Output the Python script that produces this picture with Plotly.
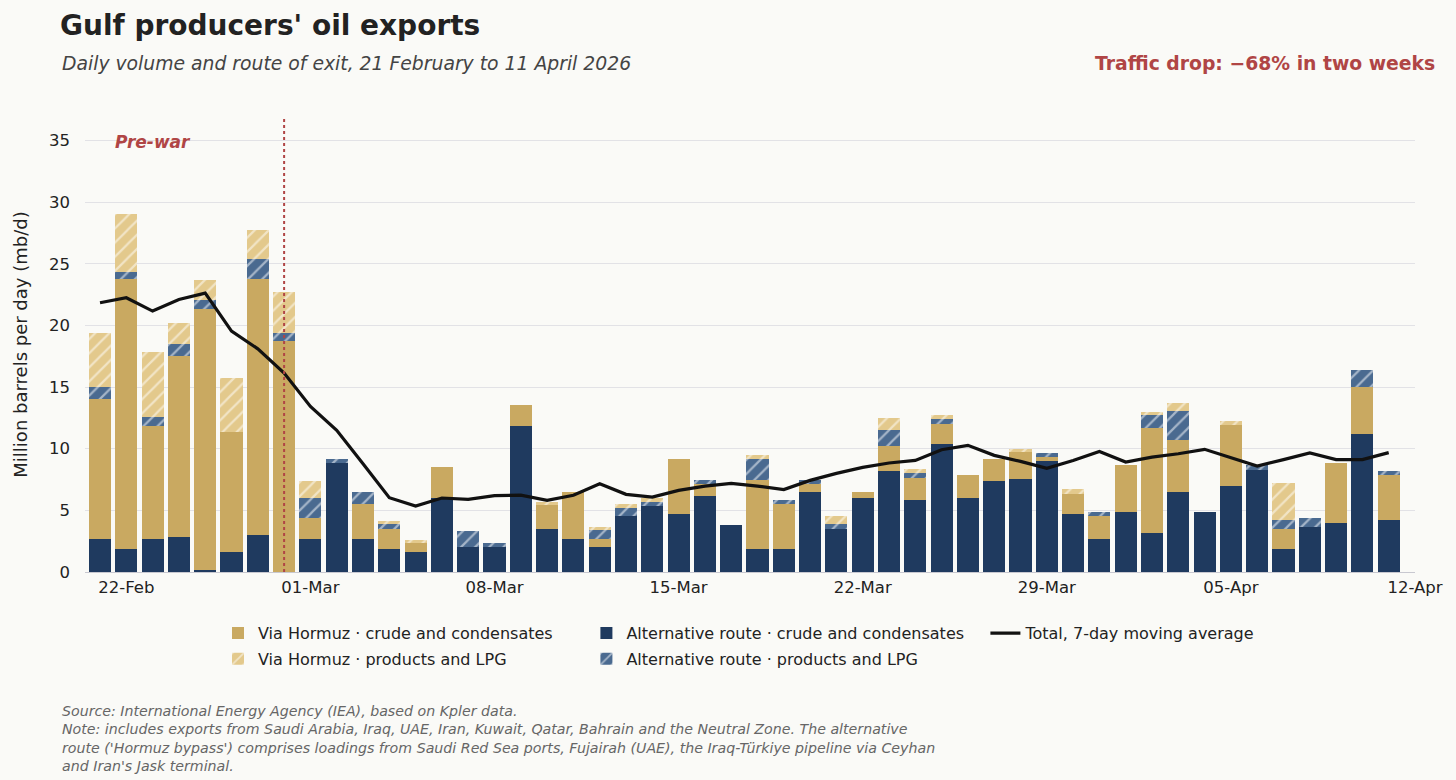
import pandas as pd
import plotly.graph_objects as go

# Daily data, 21 Feb - 11 Apr 2026 (mb/d)
dates = pd.date_range("2026-02-21", "2026-04-11", freq="D")

alt_crude = [2.65, 1.84, 2.65, 2.86, 0.14, 1.65, 3.0, 0.0,
             2.65, 8.86, 2.65, 1.84, 1.65, 6.0, 2.03, 2.03, 11.84, 3.49, 2.65, 2.0,
             4.51, 5.38, 4.68, 6.19, 3.84, 1.84, 1.84, 6.46, 3.49, 6.0, 8.19, 5.84,
             10.35, 6.0, 7.35, 7.51, 8.97, 4.68, 2.65,
             4.84, 3.14, 6.49, 4.84, 6.97, 8.24, 1.84, 3.65, 4.0, 11.22, 4.19]
hormuz_crude = [11.35, 21.89, 9.19, 14.63, 21.21, 9.7, 20.73, 18.73,
                1.7, 0.0, 2.86, 1.65, 0.7, 2.49, 0.0, 0.0, 1.67, 1.92, 3.84, 0.65,
                0.0, 0.0, 4.51, 0.97, 0.0, 5.65, 3.65, 0.7, 0.0, 0.49, 2.03, 1.81,
                1.68, 1.84, 1.81, 2.22, 0.35, 1.67, 1.86,
                3.81, 8.56, 4.19, 0.0, 4.92, 0.0, 1.65, 0.0, 4.84, 3.78, 3.65]
alt_products = [1.0, 0.62, 0.7, 1.0, 0.7, 0.0, 1.62, 0.62,
                1.65, 0.27, 0.97, 0.38, 0.0, 0.0, 1.32, 0.3, 0.0, 0.0, 0.0, 0.73,
                0.7, 0.3, 0.0, 0.32, 0.0, 1.7, 0.38, 0.32, 0.38, 0.0, 1.27, 0.38,
                0.38, 0.0, 0.0, 0.0, 0.35, 0.0, 0.32,
                0.0, 1.0, 2.35, 0.0, 0.0, 0.41, 0.7, 0.7, 0.0, 1.35, 0.35]
hormuz_products = [4.35, 4.7, 5.3, 1.73, 1.65, 4.35, 2.35, 3.35,
                   1.35, 0.0, 0.0, 0.27, 0.27, 0.0, 0.0, 0.0, 0.0, 0.27, 0.0, 0.27,
                   0.27, 0.3, 0.0, 0.0, 0.0, 0.32, 0.0, 0.0, 0.65, 0.0, 1.02, 0.32,
                   0.3, 0.0, 0.0, 0.27, 0.0, 0.35, 0.0,
                   0.0, 0.27, 0.67, 0.0, 0.32, 0.0, 3.0, 0.0, 0.0, 0.0, 0.0]
moving_avg = [21.84, 22.24, 21.16, 22.1, 22.62, 19.54, 18.1, 16.14,
              13.43, 11.49, 8.78, 6.03, 5.35, 6.0, 5.89, 6.19, 6.24, 5.81, 6.22, 7.16,
              6.3, 6.08, 6.62, 6.97, 7.19, 6.97, 6.68, 7.43, 8.0, 8.48, 8.84, 9.05,
              9.92, 10.27, 9.46, 8.97, 8.41, 9.05, 9.78,
              8.92, 9.32, 9.59, 9.95, 9.25, 8.59, 9.11, 9.65, 9.11, 9.11, 9.68]

tick_dates = ["2026-02-22", "2026-03-01", "2026-03-08", "2026-03-15",
              "2026-03-22", "2026-03-29", "2026-04-05", "2026-04-12"]
tick_labels = ["22-Feb", "01-Mar", "08-Mar", "15-Mar", "22-Mar", "29-Mar", "05-Apr", "12-Apr"]

TAN = "#C9A961"
TAN_LIGHT = "#E3C98C"
NAVY = "#1F3A5F"
BLUE = "#4A6A90"
RED = "#B04545"
BG = "#FAFAF7"
FONT = "DejaVu Sans"

bar_w = 0.84 * 86400000  # ms

fig = go.Figure()

# stack order bottom -> top
fig.add_trace(go.Bar(x=dates, y=alt_crude, name="Alternative route · crude and condensates",
                     marker=dict(color=NAVY, line=dict(width=0)), width=bar_w,
                     legend="legend2", legendgroup="ac"))
fig.add_trace(go.Bar(x=dates, y=hormuz_crude, name="Via Hormuz · crude and condensates",
                     marker=dict(color=TAN, line=dict(width=0)), width=bar_w,
                     legend="legend", legendgroup="hc"))
fig.add_trace(go.Bar(x=dates, y=alt_products, name="Alternative route · products and LPG",
                     marker=dict(color=BLUE, line=dict(width=0),
                                 pattern=dict(shape="/", fgcolor="white", bgcolor=BLUE,
                                              size=10, solidity=0.22)),
                     width=bar_w, legend="legend2", legendgroup="ap"))
fig.add_trace(go.Bar(x=dates, y=hormuz_products, name="Via Hormuz · products and LPG",
                     marker=dict(color=TAN_LIGHT, line=dict(width=0),
                                 pattern=dict(shape="/", fgcolor="white", bgcolor=TAN_LIGHT,
                                              size=10, solidity=0.22)),
                     width=bar_w, legend="legend", legendgroup="hp"))
fig.add_trace(go.Scatter(x=dates, y=moving_avg, name="Total, 7-day moving average",
                         mode="lines", line=dict(color="#111111", width=3.2),
                         legend="legend3", legendgroup="ma"))

# war start marker
fig.add_shape(type="line", x0="2026-02-28", x1="2026-02-28", y0=0, y1=1, yref="paper",
              line=dict(color=RED, width=2, dash="dot"))

fig.add_annotation(x="2026-02-23", y=34.85, text="<b><i>Pre-war</i></b>", showarrow=False,
                   font=dict(size=17, color=RED, family=FONT))

# header / footer text
fig.add_annotation(xref="paper", yref="paper", x=-0.0188, y=1.1165, xanchor="left", yanchor="middle",
                   text="<i>Daily volume and route of exit, 21 February to 11 April 2026</i>",
                   showarrow=False, font=dict(size=18.8, color="#444444", family=FONT))
fig.add_annotation(xref="paper", yref="paper", x=1.0165, y=1.1165, xanchor="right", yanchor="middle",
                   text="<b>Traffic drop: −68% in two weeks</b>",
                   showarrow=False, font=dict(size=18.8, color=RED, family=FONT))
footer = ("<i>Source: International Energy Agency (IEA), based on Kpler data.<br>"
          "Note: includes exports from Saudi Arabia, Iraq, UAE, Iran, Kuwait, Qatar, Bahrain and the Neutral Zone. The alternative<br>"
          "route ('Hormuz bypass') comprises loadings from Saudi Red Sea ports, Fujairah (UAE), the Iraq-Türkiye pipeline via Ceyhan<br>"
          "and Iran's Jask terminal.</i>")
fig.add_annotation(xref="paper", yref="paper", x=-0.0188, y=-0.283, xanchor="left", yanchor="top",
                   align="left", text=footer, showarrow=False,
                   font=dict(size=14.2, color="#666666", family=FONT))

legend_common = dict(orientation="v", yanchor="top", y=-0.097, xanchor="left",
                     bgcolor="rgba(0,0,0,0)", font=dict(size=16, color="#222222", family=FONT),
                     traceorder="grouped", tracegroupgap=2, itemwidth=30)

fig.update_layout(
    width=1456, height=780,
    barmode="stack",
    paper_bgcolor=BG, plot_bgcolor=BG,
    font=dict(family=FONT, color="#222222"),
    margin=dict(l=85, r=41, t=117, b=208),
    title=dict(text="<b>Gulf producers' oil exports</b>", xref="container", x=60 / 1456,
               xanchor="left", yref="container", y=1 - 25 / 780, yanchor="middle",
               font=dict(size=28, color="#222222", family=FONT)),
    showlegend=True,
    legend=dict(x=0.1, **legend_common),
    legend2=dict(x=0.377, **legend_common),
    legend3=dict(x=0.677, **legend_common),
    xaxis=dict(type="date", range=["2026-02-20 10:18", "2026-04-12"],
               tickvals=tick_dates, ticktext=tick_labels, showgrid=False,
               showline=True, linecolor="#C8C8D0", linewidth=1, ticks="",
               tickfont=dict(size=16.5, color="#222222"), zeroline=False),
    yaxis=dict(range=[0, 36.9], tickvals=[0, 5, 10, 15, 20, 25, 30, 35],
               gridcolor="#E2E2E6", gridwidth=1, zeroline=False, showline=False,
               ticklabelstandoff=14, tickfont=dict(size=16.5, color="#222222"),
               title=dict(text="Million barrels per day (mb/d)", font=dict(size=18, color="#222222"),
                          standoff=16)),
    bargap=0.16,
)

fig.write_html("out.html", config={"displayModeBar": False},
               post_script="document.body.style.margin='0';")
